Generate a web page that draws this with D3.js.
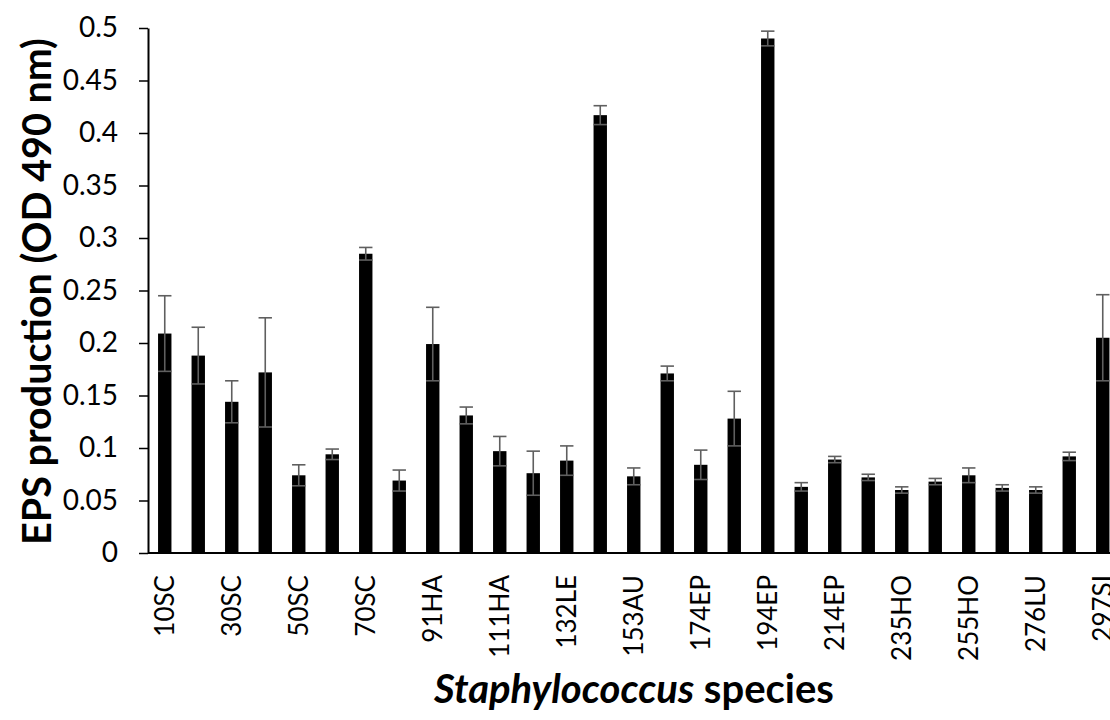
<!DOCTYPE html>
<html>
<head>
<meta charset="utf-8">
<script src="https://cdn.jsdelivr.net/npm/d3@7"></script>
<style>
  body { margin: 0; background: #fff; }
  text { font-family: Lato, "Open Sans", sans-serif; }
</style>
</head>
<body>
<script>
var w = 1110, h = 720;

// EPS values, one per isolate (left to right)
var values = [0.209, 0.188, 0.144, 0.172, 0.074, 0.094, 0.285, 0.069, 0.199, 0.131,
              0.097, 0.076, 0.088, 0.417, 0.073, 0.171, 0.084, 0.128, 0.490, 0.063,
              0.089, 0.072, 0.060, 0.068, 0.074, 0.062, 0.060, 0.092, 0.205];
// standard deviations
var errors = [0.036, 0.027, 0.020, 0.052, 0.010, 0.005, 0.006, 0.010, 0.035, 0.008,
              0.014, 0.021, 0.014, 0.009, 0.008, 0.007, 0.014, 0.026, 0.007, 0.004,
              0.003, 0.003, 0.003, 0.003, 0.007, 0.003, 0.003, 0.004, 0.041];
// only every other category is labelled on the axis
var xLabels = ["10SC", "30SC", "50SC", "70SC", "91HA", "111HA", "132LE", "153AU",
               "174EP", "194EP", "214EP", "235HO", "255HO", "276LU", "297SI"];
var yTicks = [0, 0.05, 0.1, 0.15, 0.2, 0.25, 0.3, 0.35, 0.4, 0.45, 0.5];

var plotLeft = 148, plotBottom = 553, plotTop = 28, step = 33.5;

var x = d3.scaleBand().domain(d3.range(values.length))
  .range([plotLeft, plotLeft + step * values.length])
  .paddingInner(0.6).paddingOuter(0.3);
var y = d3.scaleLinear().domain([0, 0.5]).range([plotBottom, plotTop]);

const svg = d3.select("body").append("svg").attr("width", w).attr("height", h)
  .style("background-color", "white");

// bars
svg.append("g").selectAll("rect").data(values).enter().append("rect")
  .attr("x", (d, i) => x(i)).attr("width", x.bandwidth())
  .attr("y", d => y(d)).attr("height", d => plotBottom - y(d))
  .attr("fill", "black");

// error bars
var eb = svg.append("g").attr("stroke", "#5f5f5f").attr("stroke-width", 1.6);
values.forEach(function (v, i) {
  var cx = x(i) + x.bandwidth() / 2, hw = x.bandwidth() / 2;
  eb.append("line").attr("x1", cx).attr("x2", cx).attr("y1", y(v - errors[i])).attr("y2", y(v + errors[i]));
  eb.append("line").attr("x1", cx - hw).attr("x2", cx + hw).attr("y1", y(v + errors[i])).attr("y2", y(v + errors[i]));
  eb.append("line").attr("x1", cx - hw).attr("x2", cx + hw).attr("y1", y(v - errors[i])).attr("y2", y(v - errors[i]));
});

// y axis
var yAxis = svg.append("g").attr("transform", "translate(" + plotLeft + ",0)")
  .call(d3.axisLeft(y).tickValues(yTicks).tickFormat(d3.format("~g")).tickSize(9).tickSizeOuter(0).tickPadding(21));
yAxis.select(".domain").attr("stroke", "black").attr("stroke-width", 2);
yAxis.selectAll(".tick line").attr("stroke", "black").attr("stroke-width", 1.5);
yAxis.selectAll(".tick text").attr("font-size", 28).attr("fill", "black")
  .style("font-family", "Lato, sans-serif");

// x axis line
svg.append("line").attr("x1", plotLeft).attr("x2", w).attr("y1", plotBottom).attr("y2", plotBottom)
  .attr("stroke", "black").attr("stroke-width", 2);

// x labels (every second bar)
svg.append("g").selectAll("text").data(xLabels).enter().append("text")
  .attr("transform", (d, i) => "translate(" + (x(i * 2) + x.bandwidth() / 2) + ",575) rotate(-90)")
  .attr("text-anchor", "end").attr("dy", "0.35em")
  .attr("font-size", 26).attr("fill", "black")
  .text(d => d);

// axis titles
svg.append("text").attr("transform", "translate(37," + ((plotTop + plotBottom) / 2 + 1) + ") rotate(-90)")
  .attr("text-anchor", "middle").attr("dy", "0.35em")
  .attr("font-size", 39.5).attr("font-weight", "bold").attr("fill", "black")
  .text("EPS production (OD 490 nm)");

var xt = svg.append("text").attr("x", 634).attr("y", 703)
  .attr("text-anchor", "middle").attr("font-size", 40).attr("font-weight", "bold").attr("fill", "black");
xt.append("tspan").attr("font-style", "italic").text("Staphylococcus");
xt.append("tspan").text(" species");
</script>
</body>
</html>
